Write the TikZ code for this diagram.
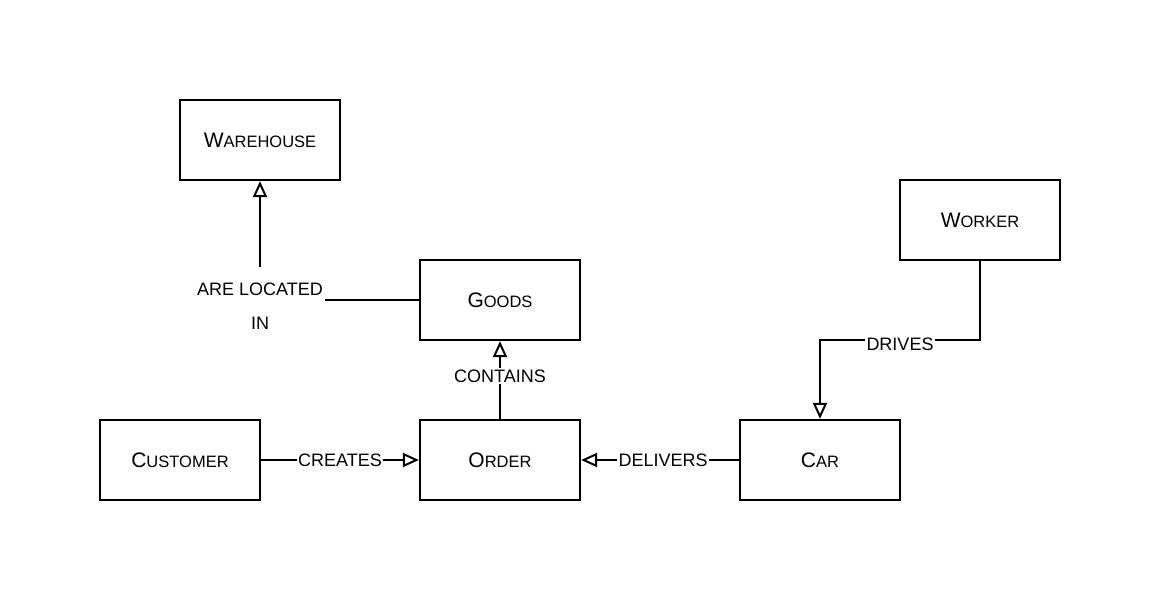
\documentclass[tikz,border=0pt]{standalone}
\usepackage{fontspec}
\setmainfont{Liberation Sans}
\usetikzlibrary{arrows.meta}
\newcommand{\fsc}[2]{{\fontsize{21}{24}\selectfont #1}{\fontsize{16.5}{19}\selectfont #2}}
\begin{document}
\begin{tikzpicture}[x=1pt,y=-1pt,
  box/.style={draw, line width=2.2pt, minimum width=160pt, minimum height=80pt, inner sep=0pt},
  conn/.style={line width=2.2pt, -{Triangle[open,length=16pt,width=14pt,line width=2pt]}},
  lbl/.style={fill=white, font=\fontsize{18}{20}\selectfont, inner sep=1.5pt}]
\fill[white] (0,0) rectangle (1162,602);
\useasboundingbox (0,0) rectangle (1162,602);
\node[box] (wh) at (260,140) {\fsc{W}{AREHOUSE}};
\node[box] (goods) at (500,300) {\fsc{G}{OODS}};
\node[box] (worker) at (980,220) {\fsc{W}{ORKER}};
\node[box] (cust) at (180,460) {\fsc{C}{USTOMER}};
\node[box] (order) at (500,460) {\fsc{O}{RDER}};
\node[box] (car) at (820,460) {\fsc{C}{AR}};
\coordinate (bend) at (980,340);
\draw[conn] (goods.west) -| node[lbl, pos=0.5, align=center, inner ysep=16pt, inner xsep=2pt, yshift=-6pt] {ARE LOCATED\\[14pt]IN} (wh.south);
\draw[conn] (order.north) -- node[lbl, pos=0.55] {CONTAINS} (goods.south);
\draw[conn] (cust.east) -- node[lbl] {CREATES} (order.west);
\draw[conn] (car.west) -- node[lbl, pos=0.48] {DELIVERS} (order.east);
\draw[conn] (worker.south) -- (bend) -| node[lbl, pos=0.25, yshift=-4pt, inner ysep=0pt] {DRIVES} (car.north);
\end{tikzpicture}
\end{document}
